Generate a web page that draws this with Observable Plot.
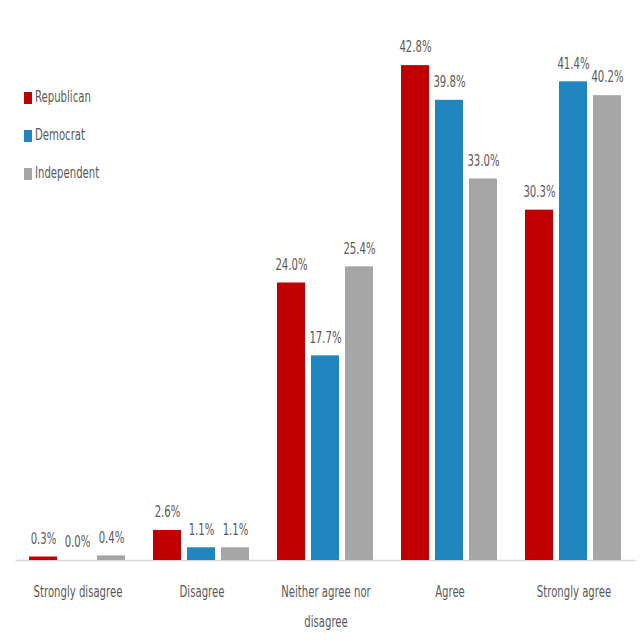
<!DOCTYPE html>
<html>
<head>
<meta charset="utf-8">
<script src="https://cdn.jsdelivr.net/npm/d3@7"></script>
<script src="https://cdn.jsdelivr.net/npm/@observablehq/plot@0.6"></script>
<style>
  html, body { margin: 0; padding: 0; background: #fff; }
  #wrap { position: relative; width: 640px; height: 640px; font-family: "DejaVu Sans", sans-serif; font-stretch: condensed; }
  #legend { position: absolute; left: 24px; top: 88px; font-size: 15px; color: #595959; }
  #legend .row { height: 38px; display: flex; align-items: flex-start; }
  #legend .sw { display: inline-block; width: 8px; height: 12px; margin-right: 3px; margin-top: 4px; }
  #legend .lbl { display: inline-block; transform: scaleX(0.75); transform-origin: left center; }
</style>
</head>
<body>
<div id="wrap"><div id="chart"></div><div id="legend"></div></div>
<script>
const categories = ["Strongly disagree", "Disagree", "Neither agree nor disagree", "Agree", "Strongly agree"];
const tickLabels = ["Strongly disagree", "Disagree", "Neither agree nor\ndisagree", "Agree", "Strongly agree"];
const parties = ["Republican", "Democrat", "Independent"];
const colors = ["#C00000", "#1F86C0", "#A6A6A6"];
const republican = [0.3, 2.6, 24.0, 42.8, 30.3];
const democrat = [0.0, 1.1, 17.7, 39.8, 41.4];
const independent = [0.4, 1.1, 25.4, 33.0, 40.2];

const series = [republican, democrat, independent];
const data = [];
categories.forEach((c, i) => {
  parties.forEach((p, j) => data.push({category: c, party: p, value: series[j][i]}));
});

const textColor = "#595959";
const font = "DejaVu Sans, sans-serif";

const chart = Plot.plot({
  width: 640,
  height: 640,
  marginLeft: 16,
  marginRight: 4,
  marginTop: 5,
  marginBottom: 80,
  style: {fontFamily: font, fontSize: "15px", color: textColor, background: "#fff", fontStretch: "condensed"},
  fx: {domain: categories, paddingInner: 0.2, paddingOuter: 0.1, label: null},
  x: {domain: parties, paddingInner: 0.17, paddingOuter: 0, axis: null},
  y: {domain: [0, 48], axis: null},
  color: {domain: parties, range: colors},
  marks: [
    Plot.ruleY([0], {stroke: "#D9D9D9", strokeWidth: 1.5, insetLeft: -12.5, insetRight: -12.5}),
    Plot.barY(data, {fx: "category", x: "party", y: "value", fill: "party"}),
    Plot.text(data, {fx: "category", x: "party", y: "value", text: d => d.value.toFixed(1) + "%", dy: -18, fill: textColor, fontSize: 15}),
    Plot.axisFx({anchor: "bottom", tickSize: 0, tickPadding: 16, label: null, lineHeight: 1.95, fill: textColor, fontSize: 15,
      tickFormat: d => tickLabels[categories.indexOf(d)]})
  ]
});

// squeeze text horizontally around its anchor point to mimic the condensed look
chart.querySelectorAll("text").forEach(t => {
  const tr = t.getAttribute("transform") || "";
  t.setAttribute("transform", `${tr} scale(0.75,1)`);
});
document.getElementById("chart").appendChild(chart);

const legend = document.getElementById("legend");
parties.forEach((p, i) => {
  const row = document.createElement("div");
  row.className = "row";
  const sw = document.createElement("span");
  sw.className = "sw";
  sw.style.background = colors[i];
  const t = document.createElement("span");
  t.className = "lbl";
  t.textContent = p;
  row.appendChild(sw);
  row.appendChild(t);
  legend.appendChild(row);
});
</script>
</body>
</html>
